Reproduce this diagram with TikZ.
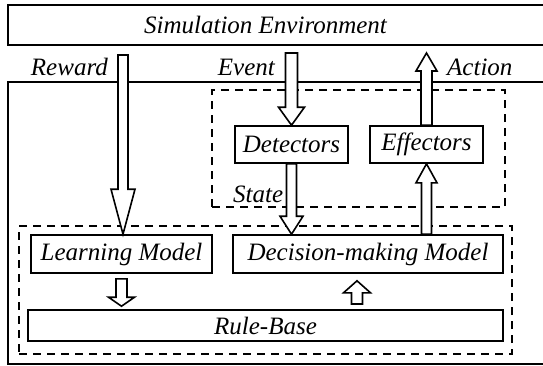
\documentclass[tikz,border=0pt]{standalone}
\usepackage{fontspec}
\setmainfont{Liberation Serif}
\usetikzlibrary{calc}
\tikzset{
	box/.style={draw, line width=1.6pt, inner sep=2pt},
	group/.style={draw, line width=1.3pt, dash pattern=on 8pt off 6pt},
	tag/.style={inner sep=0pt},
	shaft/.code={\def\bashaft{#1}},
	headlen/.code={\def\bahead{#1}},
	headwd/.code={\def\bahw{#1}},
	shaft=5pt, headlen=18pt, headwd=12pt,
	blockarrow/.style={draw, fill=white, line width=1.6pt}
}
% hollow block arrow from #2 towards #3 (vertical)
\newcommand{\blockarrow}[3][]{%
	\draw[blockarrow,#1] let \p1=(#2), \p2=(#3), \n1={sign(\y2-\y1)} in
		(\x1-\bashaft,\y1) -- (\x1-\bashaft,\y2-\n1*\bahead) -- (\x1-\bahw,\y2-\n1*\bahead)
		-- (\x1,\y2) -- (\x1+\bahw,\y2-\n1*\bahead) -- (\x1+\bashaft,\y2-\n1*\bahead)
		-- (\x1+\bashaft,\y1) -- cycle;}
\begin{document}
\begin{tikzpicture}[x=1pt, y=-1pt, every node/.style={font=\fontsize{25}{28}\selectfont\itshape}]
		\useasboundingbox (0,0) rectangle (543,365);
		\clip (0,0) rectangle (543,365);
		% environment and agent
		\node[box, anchor=north west, minimum width=553pt, minimum height=40pt] (sim) at (7,4) {};
		\node[tag, anchor=base] (simlbl) at (265.5,33) {Simulation Environment};
		\node[box, anchor=north west, minimum width=553pt, minimum height=282pt] (agent) at (7,81) {};
		% groups
		\node[group, minimum width=293pt, minimum height=117pt] (state) at (358.5,148.5) {};
		\node[group, minimum width=493pt, minimum height=128pt] (core) at (265.5,290) {};
		% modules
		\node[box, minimum width=113pt, minimum height=37pt] (det) at (291.5,144.5) {Detectors};
		\node[box, minimum width=113pt, minimum height=37pt] (eff) at (426.5,144.5) {Effectors};
		\node[box, minimum width=181pt, minimum height=38pt] (lm) at (121.5,254) {Learning Model};
		\node[box, minimum width=270pt, minimum height=38pt] (dm) at (368,254) {Decision-making Model};
		\node[box, minimum width=475pt, minimum height=31pt] (rb) at (265.5,325.5) {Rule-Base};
		% labels
		\node[tag, anchor=base east] (rewardlbl) at (108,75) {Reward};
		\node[tag, anchor=base east] (eventlbl) at (275,75) {Event};
		\node[tag, anchor=base west] (actionlbl) at (447,75) {Action};
		\node[tag, anchor=base west] (statelbl) at (233,202) {State};
		% arrows
		\coordinate (rwd) at (123,55);
		\coordinate (evt) at (291.5,53);
		\coordinate (act) at (426.5,53);
		\coordinate (rbup) at (357,304);
		\blockarrow[headlen=45pt, headwd=12pt]{rwd}{rwd |- lm.north}
		\blockarrow[shaft=6pt, headwd=13pt]{evt}{evt |- det.north}
		\blockarrow[shaft=5.5pt, headwd=10.5pt]{eff.north}{act}
		\blockarrow[headwd=11.5pt]{det.south}{det.south |- dm.north}
		\blockarrow[headlen=19pt, headwd=10.5pt]{dm.north -| eff.south}{eff.south}
		\blockarrow[shaft=5.5pt, headlen=9pt, headwd=13pt]{[yshift=-5pt]lm.south}{[yshift=3pt]rb.north -| lm.south}
		\blockarrow[shaft=5.5pt, headlen=12pt, headwd=13.5pt]{rbup}{[yshift=-7pt]dm.south -| rbup}
	\end{tikzpicture}
\end{document}
